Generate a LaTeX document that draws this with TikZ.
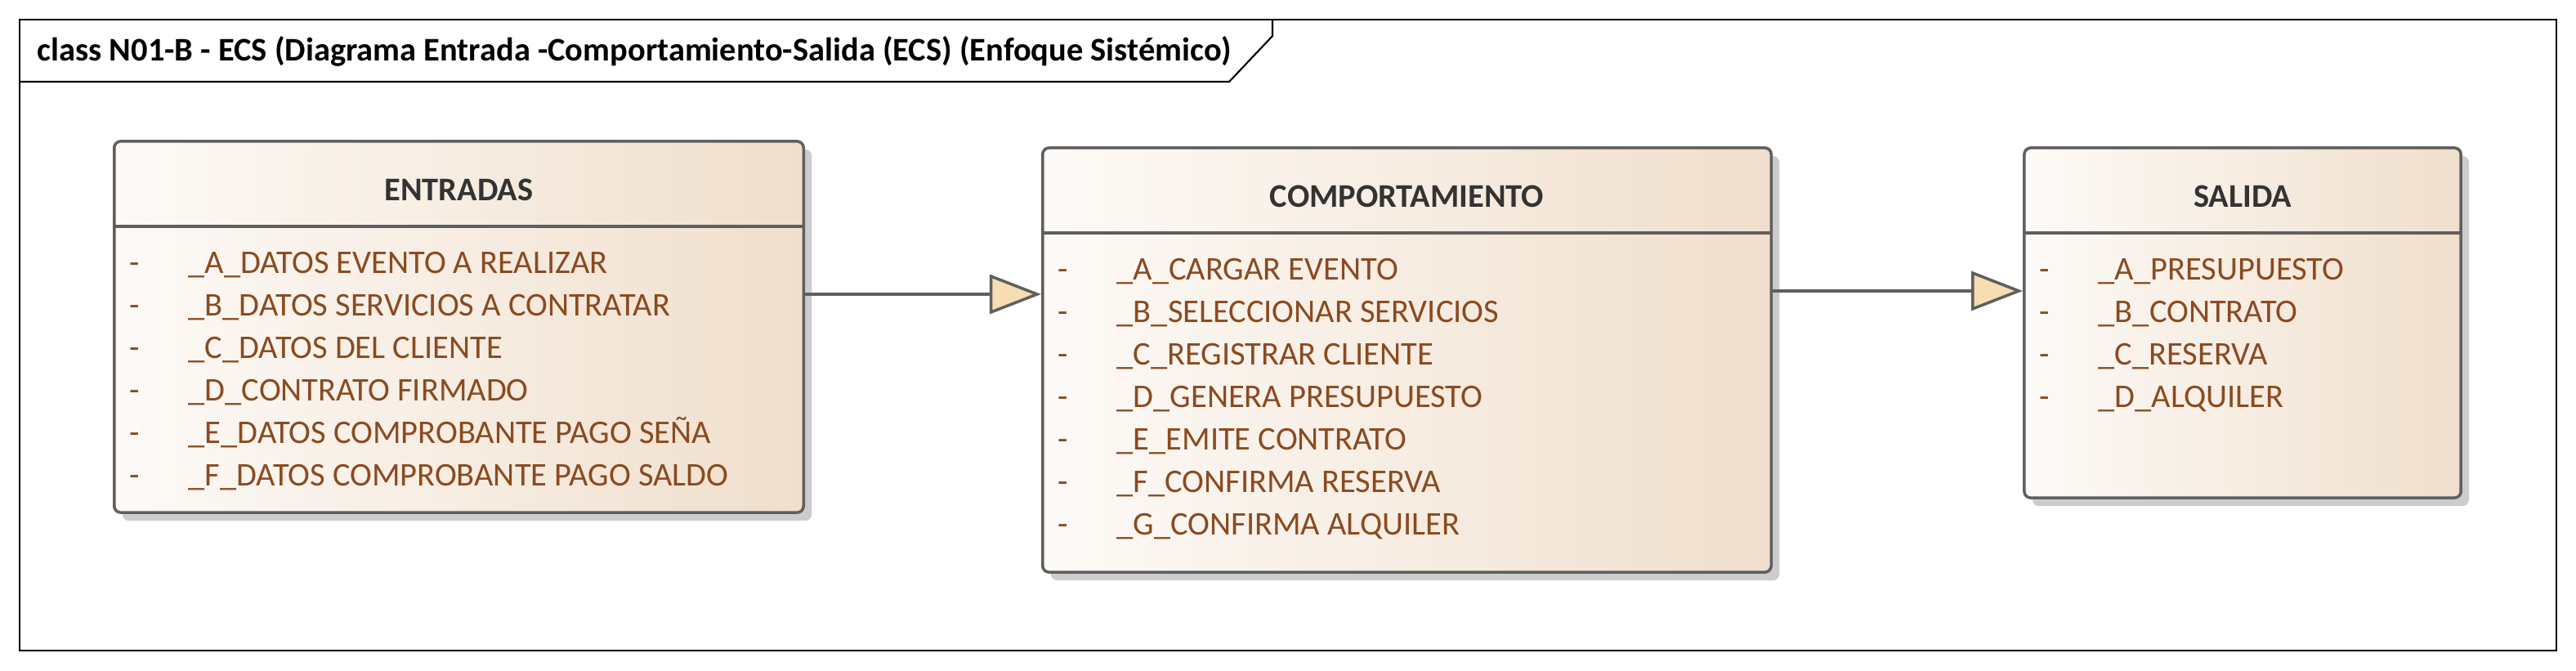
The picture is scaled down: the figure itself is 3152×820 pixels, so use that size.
\documentclass[tikz,border=0pt]{standalone}
\usepackage{fontspec}
\setmainfont{Carlito}
\usepackage{xcolor}
\usetikzlibrary{positioning,arrows.meta,shadows}

\definecolor{boxleft}{HTML}{FDFAF7}
\definecolor{boxright}{HTML}{F0DFCD}
\definecolor{edgegray}{HTML}{5F5F5F}
\definecolor{attrbrown}{HTML}{8B4A1F}
\definecolor{headgray}{HTML}{333333}
\definecolor{tipfill}{HTML}{F6DDB2}

\begin{document}
\begin{tikzpicture}[x=0.01cm, y=-0.01cm,
  classbox/.style={draw=edgegray, line width=1pt, rounded corners=0.8mm, left color=boxleft, right color=boxright, drop shadow={shadow xshift=1mm, shadow yshift=-1mm, fill=black!20, opacity=1}, inner sep=0pt},
  classname/.style={font=\fontsize{11.5}{14}\selectfont\bfseries, text=headgray, anchor=base},
  attr/.style={font=\fontsize{11.5}{14}\selectfont, text=attrbrown, anchor=base west, inner sep=0pt},
  bullet/.style={font=\fontsize{11.5}{14}\selectfont, text=attrbrown, anchor=base, inner sep=0pt},
  divider/.style={draw=edgegray, line width=1.1pt},
  flow/.style={draw=edgegray, line width=1pt, -{Triangle[length=6.3mm, width=4.8mm, fill=tipfill]}},
  frame/.style={draw=black, line width=0.6pt},
]
  \useasboundingbox (0,0) rectangle (3152,820);

  % Diagram frame
  \draw[frame] (24,24) rectangle (3128,796);
  \draw[frame] (24,100) -- (1504,100) -- (1557,44) -- (1557,24);
  \node[anchor=base west, inner sep=0pt, font=\fontsize{11.5}{14}\selectfont\bfseries] (title) at (45,74) {class N01-B - ECS (Diagrama Entrada -Comportamiento-Salida (ECS) (Enfoque Sistémico)};

  % Classes
  \node[classbox, minimum width=8.43cm, minimum height=4.54cm] (entradas) at (561.5,400) {};
  \node[classbox, minimum width=8.91cm, minimum height=5.19cm] (comp) at (1721.5,440.5) {};
  \node[classbox, minimum width=5.34cm, minimum height=4.28cm] (salida) at (2744,395) {};

  \draw[divider] ([yshift=-1.06cm]entradas.north west) -- ([yshift=-1.06cm]entradas.north east);
  \draw[divider] ([yshift=-1.06cm]comp.north west) -- ([yshift=-1.06cm]comp.north east);
  \draw[divider] ([yshift=-1.06cm]salida.north west) -- ([yshift=-1.06cm]salida.north east);

  \node[classname] (entradas-name) at (561.5,245) {ENTRADAS};
  \node[classname] (comp-name) at (1721.5,253) {COMPORTAMIENTO};
  \node[classname] (salida-name) at (2744,253) {SALIDA};

  % Attributes
  \foreach \t [count=\i] in {{\_A\_DATOS EVENTO A REALIZAR}, {\_B\_DATOS SERVICIOS A CONTRATAR}, {\_C\_DATOS DEL CLIENTE}, {\_D\_CONTRATO FIRMADO}, {\_E\_DATOS COMPROBANTE PAGO SEÑA}, {\_F\_DATOS COMPROBANTE PAGO SALDO}} {
    \node[bullet] (entradas-d\i) at (165,{334+52*(\i-1)}) {-};
    \node[attr] (entradas-a\i) at (230,{334+52*(\i-1)}) {\t};
  }
  \foreach \t [count=\i] in {{\_A\_CARGAR EVENTO}, {\_B\_SELECCIONAR SERVICIOS}, {\_C\_REGISTRAR CLIENTE}, {\_D\_GENERA PRESUPUESTO}, {\_E\_EMITE CONTRATO}, {\_F\_CONFIRMA RESERVA}, {\_G\_CONFIRMA ALQUILER}} {
    \node[bullet] (comp-d\i) at (1301,{342+52*(\i-1)}) {-};
    \node[attr] (comp-a\i) at (1366,{342+52*(\i-1)}) {\t};
  }
  \foreach \t [count=\i] in {{\_A\_PRESUPUESTO}, {\_B\_CONTRATO}, {\_C\_RESERVA}, {\_D\_ALQUILER}} {
    \node[bullet] (salida-d\i) at (2502,{342+52*(\i-1)}) {-};
    \node[attr] (salida-a\i) at (2567,{342+52*(\i-1)}) {\t};
  }

  % Flows
  \draw[flow] ([yshift=4mm]entradas.east) -- ([yshift=4mm]entradas.east -| comp.west);
  \draw[flow] ([yshift=8.45mm]comp.east) -- ([yshift=8.45mm]comp.east -| salida.west);

\end{tikzpicture}
\end{document}
